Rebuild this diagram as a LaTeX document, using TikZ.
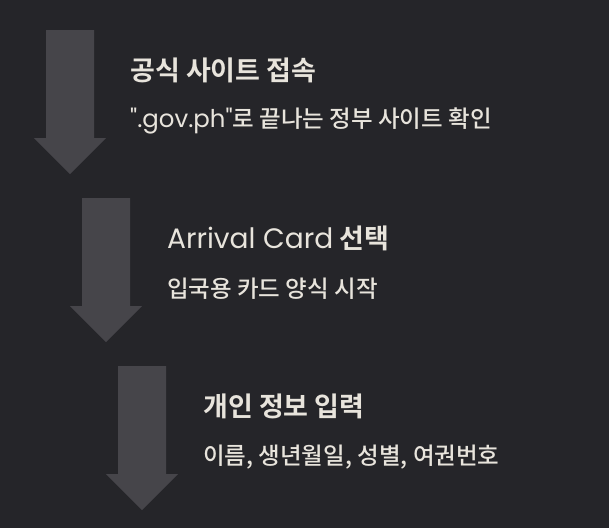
\documentclass[tikz,border=0pt]{standalone}
\usepackage{fontspec}
\setmainfont{Noto Sans CJK KR}[BoldFont={* Bold}]
\newfontfamily\latinf{Poppins}[Scale=1.04]
\newfontfamily\kormed{Noto Sans CJK KR}[UprightFont={* Medium}]
\definecolor{bg}{HTML}{252529}
\definecolor{arr}{HTML}{46454A}
\definecolor{txt}{HTML}{E8E4DC}
\tikzset{
  downarrow/.style={fill=arr, draw=none},
  titletext/.style={anchor=west, inner sep=0pt, text=txt, font=\fontsize{27}{30}\selectfont\bfseries},
  subtext/.style={anchor=west, inner sep=0pt, text=txt, font=\fontsize{23.5}{26}\kormed},
}
\newcommand{\blockarrow}[2]{%
  \fill[downarrow] (#1-24pt,#2) -- (#1+24pt,#2) -- (#1+24pt,#2-108pt) -- (#1+36pt,#2-108pt)
   -- (#1,#2-144pt) -- (#1-36pt,#2-108pt) -- (#1-24pt,#2-108pt) -- cycle;}
\begin{document}
\begin{tikzpicture}[x=1pt,y=1pt]
\fill[bg] (0,0) rectangle (609,-528);
\useasboundingbox (0,0) rectangle (609,-528);
\blockarrow{70}{-30}
\blockarrow{106}{-198}
\blockarrow{142}{-366}
\node[titletext] (t1) at (130,-70) {공식 사이트 접속};
\node[subtext] (s1) at (130,-121) {{\latinf ".gov.ph"}로 끝나는 정부 사이트 확인};
\node[titletext] (t2) at (167,-238) {{\latinf\mdseries Arrival Card} 선택};
\node[subtext] (s2) at (167,-289) {입국용 카드 양식 시작};
\node[titletext] (t3) at (203,-406) {개인 정보 입력};
\node[subtext] (s3) at (203,-457) {이름, 생년월일, 성별, 여권번호};
\end{tikzpicture}
\end{document}
